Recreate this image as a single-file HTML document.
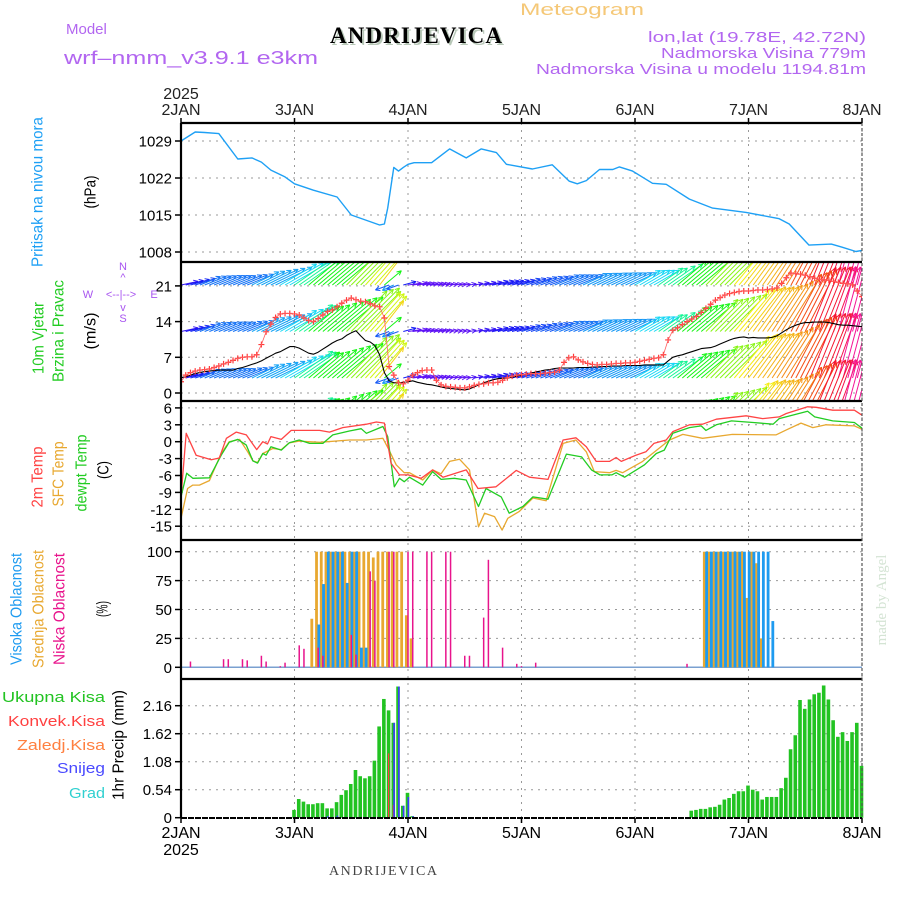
<!DOCTYPE html>
<html><head><meta charset="utf-8"><style>
html,body{margin:0;padding:0;background:#fff;}
svg{display:block;font-family:"Liberation Sans",sans-serif;}
</style></head><body>
<svg id="chart" width="900" height="900" viewBox="0 0 900 900" xmlns="http://www.w3.org/2000/svg">
<g id="hdr">
<text x="582" y="15" text-anchor="middle" font-size="17" fill="#f5c878" textLength="124" lengthAdjust="spacingAndGlyphs">Meteogram</text>
<text x="66" y="34" font-size="15" fill="#b266f0">Model</text>
<text x="64" y="64" font-size="18" fill="#b266f0" textLength="254" lengthAdjust="spacingAndGlyphs">wrf–nmm_v3.9.1 e3km</text>
<text x="418" y="45" text-anchor="middle" font-family="Liberation Serif" font-weight="bold" font-size="23" fill="#b8c8b8" textLength="172">ANDRIJEVICA</text>
<text x="416" y="43" text-anchor="middle" font-family="Liberation Serif" font-weight="bold" font-size="23" fill="#000" textLength="172">ANDRIJEVICA</text>
<text x="866" y="42" text-anchor="end" font-size="15" fill="#b266f0" textLength="218" lengthAdjust="spacingAndGlyphs">lon,lat (19.78E, 42.72N)</text>
<text x="866" y="58" text-anchor="end" font-size="15" fill="#b266f0" textLength="205" lengthAdjust="spacingAndGlyphs">Nadmorska Visina 779m</text>
<text x="866" y="74" text-anchor="end" font-size="15" fill="#b266f0" textLength="330" lengthAdjust="spacingAndGlyphs">Nadmorska Visina u modelu 1194.81m</text>
</g>
<g id="grid"></g>
<g id="marks"></g>
<g id="frame"></g>
<g id="labels"></g>
</svg>
<script>
// ---------- DATA ----------
const dayLabels = ["2JAN","3JAN","4JAN","5JAN","6JAN","7JAN","8JAN"];
const yearLabel = "2025";
const pressTicks = [1029,1022,1015,1008];
const windTicks = [21,14,7,0];
const tempTicks = [6,3,0,-3,-6,-9,-12,-15];
const cloudTicks = [100,75,50,25,0];
const precipTicks = [2.16,1.62,1.08,0.54,0];

const pressHours = [0,3,5,8,12,15,17,19,22,24,28,33,36,42,43,43.7,45,46,47,48,49.3,53,56.8,60.3,63.5,66.7,68.8,74.3,78.5,82.1,83.8,85.7,88.5,91.3,92.7,95.5,99.7,102.6,107.5,112.4,119.5,126.5,128.6,132.8,137.5,139.8,142.7,144];
const pressVals = [1029,1030.7,1030.6,1030.4,1025.6,1025.8,1025,1023.5,1022.2,1020.9,1019.7,1018.4,1015,1013.1,1013.3,1016.3,1024,1023.3,1024,1024.6,1024.9,1024.9,1027.5,1025.8,1027.5,1026.8,1024.6,1023.7,1024.5,1021.4,1020.9,1021.5,1023.6,1023.6,1024.1,1023.3,1021,1020.8,1018,1016.3,1015.5,1014.3,1013.3,1009.3,1009.5,1008.9,1008.1,1008.3];

const windSpeed = [3,3.2,3.5,3.8,4,4.2,4.3,4.4,4.5,4.5,4.5,4.5,4.8,5,5.3,5.6,5.9,6.3,6.8,7.3,7.8,8.1,8.6,9.1,9.1,8.8,8.3,7.8,7.6,8,8.6,9.2,9.8,10.3,10.6,11.3,11.8,12.2,11.2,10.3,10,9.3,7.5,4,2.4,2,2,2.1,2.2,2.4,2.1,1.9,1.7,1.6,1.4,1.2,1,0.9,0.8,0.7,0.6,0.8,1.2,1.6,2,2.3,2.6,2.8,2.9,2.9,3.1,3.3,3.5,3.7,3.9,4.1,4.3,4.5,4.6,4.8,4.9,4.9,4.9,4.9,5,5,5,5.1,5.1,5.2,5.2,5.3,5.3,5.3,5.4,5.4,5.4,5.4,5.5,5.5,5.5,5.5,5.5,6.3,7,7.3,7.5,7.8,8.1,8.4,8.7,8.8,8.9,9.2,9.6,10,10.4,10.7,10.9,11,10.8,10.9,10.8,10.8,10.8,10.9,11.2,11.8,12.4,12.9,13.3,13.6,13.8,13.8,13.9,13.9,13.9,13.8,13.6,13.4,13.3,13.3,13.2,13.1,13];
const windDir = [12,14,16,18,22,22,22,22,22,22,22,22,22,22,22,26,26,26,26,26,26,30,30,30,35,35,35,40,40,40,40,40,40,40,40,45,45,45,45,48,48,48,52,40,200,205,200,15,8,8,8,8,8,8,8,8,8,8,8,8,8,10,10,12,12,12,14,14,14,15,15,15,18,18,18,20,20,20,20,22,22,22,22,22,22,25,25,25,25,25,25,25,25,25,25,25,30,30,30,30,30,35,35,35,35,40,40,40,40,40,40,45,45,45,45,45,45,50,50,52,52,54,54,55,55,57,57,58,58,62,62,63,63,68,68,68,68,70,70,75,75,75,75,75,75];
const windGust = [2.2,3.5,4,4.3,4.5,4.6,4.7,5,5.3,5.7,6,6.4,6.8,7,7.1,7.1,7.5,9.5,12,13.5,14.8,15.5,15.6,15.6,15.5,15.3,14.7,14.2,14,14.6,15.3,16,16.3,16.9,17.6,18.2,18.6,18.3,18,17.9,17.5,17.1,16.9,14.7,5.2,3.5,2,1.8,2.5,3.5,4,4.4,4.5,4.5,2.5,1.6,1.3,1.2,1.1,1,1,1.2,1.5,1.7,1.8,2,2,2.1,2.5,3,3.3,3.5,3.6,3.7,3.8,3.8,3.8,3.9,4,4.1,4.5,6,6.9,7.1,6.5,6.1,5.8,5.6,5.5,5.6,5.6,5.7,5.8,5.8,5.9,5.9,6,6.2,6.4,6.6,6.8,6.9,7.5,10.4,12.3,12.8,13.4,14,14.5,15,15.8,16.6,17.4,18.2,18.7,19.2,19.5,19.7,19.9,20,20,20.1,20.2,20.2,20.3,20.4,20.6,21.5,22.6,23.5,23.4,23.3,23.1,22.8,22.5,22.3,22.2,22.1,21.9,21.7,21.5,21.4,21.2,20,18.9];

const t2mHours = [0,1.1,3.2,6.4,8.1,9.6,11.7,13.8,16,17.3,18.3,19,21.2,23.3,29.3,31.4,34.2,39.2,41.3,43,44.4,46.2,48,50.8,53.2,55.4,60.3,62.8,66.6,70.9,73.7,77.6,80.8,83.5,85.7,87.8,90.6,92,93.1,96.2,98.3,100,102.6,104,107.5,110.3,113.2,119.5,123,126.5,128,132.5,134.3,137.8,142.4,144];
const t2mVals = [-9.8,1.5,-2.4,-3.2,-2.9,0.6,1.7,1.2,-1.4,0,-0.4,0.9,0.4,2,2,1.7,2.5,3.1,3.5,3.3,-3.8,-5.9,-5.9,-6.5,-5,-6.3,-5,-8.3,-8,-5.1,-6.3,-6.7,0.3,0.7,-0.9,-3.5,-3.5,-2.8,-3.5,-2.4,-1.8,-0.3,0.3,1.8,3,3.1,4,4.6,4.1,4.4,5,6.2,6.1,5.6,5.6,4.7];
const sfcHours = [0,1.4,2.5,3.9,6,8.5,10.2,12.4,14.1,15.2,16.2,17.3,19.4,21.2,22.9,25,29.3,35.6,39.2,42.7,44,45.5,47.2,48.3,51.1,53.2,55,56.8,58.9,61,62.9,64.2,66.3,67.9,69.1,71.5,74.4,77.2,80.8,83.5,85.7,87.4,90.6,92,93.4,97.6,99.7,103.3,106.1,110.3,116.6,125.8,128,131.1,133.6,136.4,142.4,144];
const sfcVals = [-13.6,-8.3,-7.7,-7.7,-6.9,-2.1,0,0.4,-1.8,-3.4,-3.7,-2.1,-1.2,-1.4,-0.2,0.1,-0.1,0.3,0.3,0.6,-1.5,-4.1,-5.5,-5.5,-6.8,-5,-5.7,-3.5,-3.1,-5,-15.1,-12.7,-13.3,-15.7,-13.6,-12.4,-10,-10.5,-0.3,0.3,-1.8,-5.3,-5.5,-5.1,-5.5,-3.5,-2.1,0.3,1.3,0.6,1.3,1.2,2.1,3.3,2.5,3,2.8,2.2];
const dewHours = [0,1.2,2.5,6,8.5,10.2,12,13.8,15.2,16.2,17.3,18,19,21.2,22.9,25,27.2,30,32.1,35.6,38.1,39.2,42.7,43.7,45.1,46.2,47.2,48.3,51.1,53.2,55,57.8,60.3,62.9,64.5,67.7,69.4,72.3,74.4,77.6,81.5,84.7,86.8,88.6,91.1,92,93.8,98,100.5,102.2,104,107.5,110,111,113.2,116.4,121,125.2,126.5,132.5,134,137.8,142.4,144];
const dewVals = [-9.8,-5.6,-6.5,-6.4,-2.4,-0.1,0.4,-0.6,-3.4,-3.8,-2.1,-2.4,-0.9,-1.5,-0.2,0.3,-0.3,-0.3,1.2,1.9,2.3,1.5,2.7,0.9,-8,-6.5,-7.1,-6.3,-7.7,-5.3,-6.7,-6.5,-6.8,-11.5,-8.3,-9.8,-12.7,-11.5,-9.8,-10.2,-2.2,-2.7,-5,-5.9,-5.9,-5.5,-6.3,-4.1,-2.1,-1.5,1.5,2.5,2.8,2,3,3.7,3.4,3.1,4.1,5.4,4.4,3.7,3.4,2.4];

const cloudHighHours = [28,29,30,31,32,33,34,35,36,37,38,110,111,112,113,114,115,116,117,118,119,120,121,122,123,124];
const cloudHighVals = [37,72,100,100,100,100,73,100,100,17,17,100,100,100,100,100,100,100,100,100,100,100,100,100,100,40];
const cloudMidHours = [27,28,29,30,31,32,33,34,35,36,37,38,39,40,41,42,43,44,45,46,47,48,110,111,112,113,114,115,116,117,118,119,120,121,122];
const cloudMidVals = [42,100,100,100,100,100,100,100,100,100,100,100,100,95,100,100,100,100,100,100,45,25,100,100,100,100,100,100,100,100,100,60,100,90,25];
const cloudLowHours = [2,9,10,13,14,17,18,21,22,25,26,29,30,36,37,40,41,44,45,48,49,52,53,56,57,60,61,64,65,68,71,72,75,107];
const cloudLowVals = [5,7,7,7,6,10,5,1,4,19,16,17,10,28,11,83,75,100,100,100,100,100,100,100,100,10,10,43,93,17,3,1,4,3];

const precipHours = [24,25,26,27,28,29,30,31,32,33,34,35,36,37,38,39,40,41,42,43,44,45,46,47,48,49,108,109,110,111,112,113,114,115,116,117,118,119,120,121,122,123,124,125,126,127,128,129,130,131,132,133,134,135,136,137,138,139,140,141,142,143,144];
const precipTotal = [0.15,0.36,0.31,0.26,0.26,0.28,0.28,0.18,0.18,0.3,0.44,0.53,0.65,0.92,0.8,0.76,0.8,1.1,1.76,2.29,2.07,1.83,2.53,0.23,0.48,0.03,0.135,0.15,0.17,0.17,0.2,0.21,0.25,0.35,0.38,0.46,0.51,0.51,0.62,0.54,0.51,0.35,0.4,0.4,0.4,0.57,0.77,1.32,1.59,2.27,2.1,2.28,2.38,2.41,2.55,2.28,1.88,1.56,1.65,1.48,1.65,1.83,1.0];
const convHours = [44,45];
const convVals = [1.24,0.25];
const snowHours = [31,33,45,46,47,48,49];
const snowVals = [0.03,0.04,1.83,2.53,0.23,0.4,0.03];

// ---------- AXES ----------
const L=181, R=862, T=123, B1=262, B2=401, B3=540, B4=679, B5=818;
const x = h => L + h*(R-L)/144;
const yP = p => 141 + (1029-p)*37/7;
const yW = v => 393 - v*35.7/7;
const yT = t => 441.7 - t*16.9/3;
const yC = c => 667.3 - c*1.156;
const yR = p => 817.7 - p*112/2.16;
const NS="http://www.w3.org/2000/svg";
function el(tag, attrs, parent){const e=document.createElementNS(NS,tag);for(const k in attrs)e.setAttribute(k,attrs[k]);parent.appendChild(e);return e;}
const grid=document.getElementById('grid'), marks=document.getElementById('marks'), frame=document.getElementById('frame'), labels=document.getElementById('labels');

const gridDash={stroke:'#999','stroke-width':1,'stroke-dasharray':'2,5',fill:'none'};
dayLabels.forEach((d,i)=>{
  const g=el('line',Object.assign({x1:x(i*24),x2:x(i*24),y1:T,y2:B5},gridDash),grid);
  
  
});
function hgrid(ticks, yf, name){
  ticks.forEach(t=>{
    const g=el('line',Object.assign({x1:L,x2:R,y1:yf(t),y2:yf(t)},gridDash),grid);
    
    
    const tk=el('line',{x1:L-6,x2:L,y1:yf(t),y2:yf(t),stroke:'#000','stroke-width':1.5},frame);
    
    
    const tx=el('text',{x:L-9,y:yf(t)+5.5,'text-anchor':'end','font-size':15,fill:'#000'},labels);
    
    
    tx.textContent=String(t);
  });
}
hgrid(pressTicks,yP,'pressure');
hgrid(windTicks,yW,'wind');
hgrid(tempTicks,yT,'temp');
hgrid(cloudTicks,yC,'cloud');
hgrid(precipTicks,yR,'precip');

dayLabels.forEach((d,i)=>{
  const a=el('text',{x:x(i*24),y:115,'text-anchor':'middle','font-size':16,fill:'#222'},labels);
  
  
  a.textContent=d;
  const b=el('text',{x:x(i*24),y:838,'text-anchor':'middle','font-size':16,fill:'#000'},labels);
  
  
  b.textContent=d;
});
[[99,'top-year-label','#222'],[855,'bottom-year-label','#000']].forEach(p=>{
  const t=el('text',{x:x(0),y:p[0],'text-anchor':'middle','font-size':16,fill:p[2]},labels);
  
  
  t.textContent=yearLabel;
});

// ---------- MARKS ----------
function polyline(hs, vs, yf, color, name, w){
  const pts=hs.map((h,i)=>x(h).toFixed(1)+','+yf(vs[i]).toFixed(1)).join(' ');
  const p=el('polyline',{points:pts,fill:'none',stroke:color,'stroke-width':w||1.3,'stroke-linejoin':'round'},marks);
  
  
}
polyline(pressHours,pressVals,yP,'#1ea0f5','pressure-line',1.4);

const clipW=el('clipPath',{id:'cw'},marks); el('rect',{x:L,y:B1,width:R-L,height:B2-B1},clipW);
const wg=el('g',{'clip-path':'url(#cw)'},marks);


const hueStops=[[0,285],[5,270],[20,222],[30,188],[40,120],[50,58],[57,35],[65,5],[75,-35],[90,-60]];
function hueFor(a){let b=a%180; if(b>90) b=Math.abs(b-180);
  for(let i=1;i<hueStops.length;i++){if(b<=hueStops[i][0]){const s=hueStops[i-1],e=hueStops[i];const f=(b-s[0])/(e[0]-s[0]);return ((s[1]+f*(e[1]-s[1]))+360)%360;}}return 300;}
const rowBases=[285,331.5,378,424.5];
rowBases.forEach(by=>{
  windSpeed.forEach((s,h)=>{
    const a=windDir[h]*Math.PI/180, len=s*4.8+3;
    const x0=x(h), x1=x0+Math.cos(a)*len, y1=by-Math.sin(a)*len;
    const col='hsl('+hueFor(windDir[h]).toFixed(0)+',92%,52%)';
    const ln=el('line',{x1:x0,y1:by,x2:x1,y2:y1,stroke:col,'stroke-width':1},wg);
    
    
    [0.45,-0.45].forEach(d=>{
      const hd=el('line',{x1:x1,y1:y1,x2:x1-Math.cos(a+d)*5,y2:y1+Math.sin(a+d)*5,stroke:col,'stroke-width':1},wg);
      
      
    });
  });
});
const wsH=windSpeed.map((v,i)=>i);
polyline(wsH,windSpeed,yW,'#000','wind-speed-line',1.1);
const gg=el('g',{'clip-path':'url(#cw)'},marks);


polyline(wsH,windGust,yW,'#ff6060','gust-line',0.8);
windGust.forEach((g,h)=>{
  const cx=x(h), cy=yW(g);
  const c=el('path',{d:`M${cx-3},${cy}h6M${cx},${cy-3}v6`,stroke:'#ff3b3b','stroke-width':1.2},gg);
  
  
});

polyline(sfcHours,sfcVals,yT,'#e8a830','sfc-temp-line',1.3);
polyline(dewHours,dewVals,yT,'#22cc22','dewpoint-line',1.3);
polyline(t2mHours,t2mVals,yT,'#ff4444','temp-2m-line',1.3);

const zl=el('line',{x1:L,x2:R,y1:yC(0),y2:yC(0),stroke:'#7aa0d0','stroke-width':1.5},marks);


function bars(hs, vs, yf, color, w, off, name){
  hs.forEach((h,i)=>{
    const y0=yf(0), y1=yf(vs[i]);
    const r=el('rect',{x:x(h)+off-w/2,y:y1,width:w,height:Math.max(0.5,y0-y1),fill:color},marks);
    
    
  });
}
bars(cloudMidHours,cloudMidVals,yC,'#e8a830',2.8,3.1,'mid-cloud-bar');
bars(cloudHighHours,cloudHighVals,yC,'#1e9bf0',2.8,5.4,'high-cloud-bar');
bars(cloudLowHours,cloudLowVals,yC,'#e8148c',1.5,0,'low-cloud-bar');

bars(precipHours,precipTotal,yR,'#22c322',3.6,-0.5,'total-precip-bar');
bars(convHours,convVals,yR,'#ff4040',1.2,-0.5,'convective-precip-bar');
bars(snowHours,snowVals,yR,'#3b3bff',1.6,0.3,'snow-bar');

// ---------- FRAME ----------
[[T,'top-border'],[B1,'pressure-wind-border'],[B2,'wind-temp-border'],[B3,'temp-cloud-border'],[B4,'cloud-precip-border']].forEach(b=>{
  const l=el('line',{x1:L,x2:R,y1:b[0],y2:b[0],stroke:'#000','stroke-width':2.2},frame);
  
  
});
const bl=el('line',{x1:L,x2:R,y1:B5,y2:B5,stroke:'#000','stroke-width':2,'stroke-dasharray':'6,1'},frame);


const ll=el('line',{x1:L,x2:L,y1:T,y2:B5,stroke:'#000','stroke-width':2.2},frame);


const rl=el('line',{x1:R,x2:R,y1:T,y2:B5,stroke:'#555','stroke-width':1.2,'stroke-dasharray':'3,2'},frame);


dayLabels.forEach((d,i)=>{
  const t=el('line',{x1:x(i*24),x2:x(i*24),y1:T-5,y2:T,stroke:'#000','stroke-width':1.5},frame);
  
  
  const b=el('line',{x1:x(i*24),x2:x(i*24),y1:B5,y2:B5+5,stroke:'#000','stroke-width':1.5},frame);
  
  
});

// ---------- SIDE LABELS ----------
function vlabel(txt, cx, cy, len, color, name, fs){
  const t=el('text',{x:0,y:0,'text-anchor':'middle','font-size':fs||15,fill:color,transform:`translate(${cx+5.5},${cy}) rotate(-90)`,textLength:len,lengthAdjust:'spacingAndGlyphs'},labels);
  
  
  t.textContent=txt;
}
vlabel('Pritisak na nivou mora',37,192,150,'#1ea0f5','pressure-title',16);
vlabel('(hPa)',90,192,33,'#000','pressure-unit',16);
vlabel('10m Vjetar',38,338,72,'#22cc22','wind-title-1',16);
vlabel('Brzina i Pravac',58,331,102,'#22cc22','wind-title-2',16);
vlabel('(m/s)',90,331,37,'#000','wind-unit',16);
vlabel('2m Temp',37,477,61,'#ff4444','temp-2m-title',16);
vlabel('SFC Temp',58,474,65,'#e8a830','sfc-temp-title',16);
vlabel('dewpt Temp',81,473,77,'#22cc22','dewpoint-title',16);
vlabel('(C)',103,470,18,'#000','temp-unit',16);
vlabel('Visoka Oblacnost',16,609,112,'#1e9bf0','high-cloud-title',16);
vlabel('Srednja Oblacnost',38,609,118,'#e8a830','mid-cloud-title',16);
vlabel('Niska Oblacnost',59,609,112,'#e8148c','low-cloud-title',16);
vlabel('(%)',102,609,16,'#000','cloud-unit',16);
vlabel('1hr Precip (mm)',118,745,110,'#000','precip-title',16);
[['Ukupna  Kisa',702,103,'#22c322','total-precip-legend'],['Konvek.Kisa',726,97,'#ff4040','convective-legend'],['Zaledj.Kisa',750,88,'#ff8040','freezing-legend'],['Snijeg',773,48,'#4a4aff','snow-legend'],['Grad',798,36,'#30d0d0','hail-legend']].forEach(p=>{
  const t=el('text',{x:105,y:p[1],'text-anchor':'end','font-size':15,fill:p[3],textLength:p[2],lengthAdjust:'spacingAndGlyphs'},labels);
  
  
  t.textContent=p[0];
});
[['N',123,270],['^',123,281],['W',88,298],['<--|-->',121,298],['E',154,298],['v',123,311],['S',123,322]].forEach(p=>{
  const t=el('text',{x:p[1],y:p[2],'text-anchor':'middle','font-size':11,fill:'#a855f0'},labels);
  
  
  t.textContent=p[0];
});
const mb=el('text',{x:0,y:0,'text-anchor':'middle','font-size':15,fill:'#d4e4d4','font-family':'Liberation Serif',transform:'translate(886,600) rotate(-90)'},labels);


mb.textContent='made by Angel';
const ft=el('text',{x:383,y:875,'text-anchor':'middle','font-size':14,fill:'#444','font-family':'Liberation Serif',textLength:108},labels);


ft.textContent='ANDRIJEVICA';
</script>
</body></html>
